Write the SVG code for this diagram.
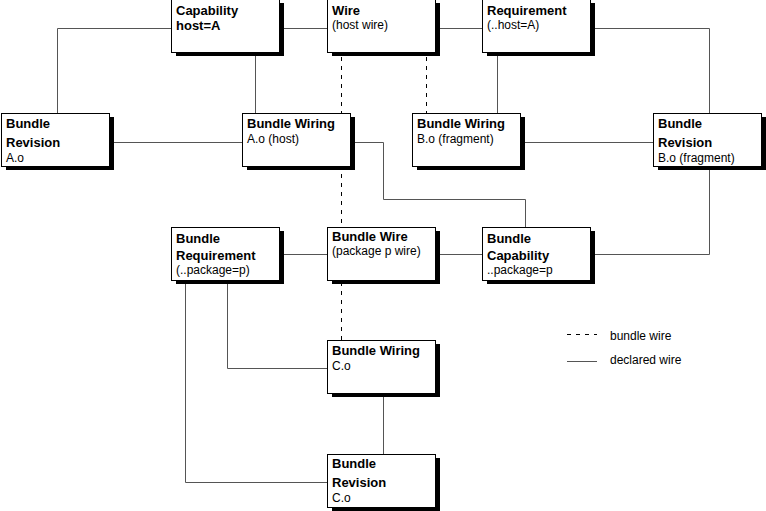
<svg xmlns="http://www.w3.org/2000/svg" width="766" height="511" viewBox="0 0 766 511">
<style>
.box{fill:#fff;stroke:#000;stroke-width:1}
.sh{fill:#000}
.b{font-family:"Liberation Sans",Arial,sans-serif;font-weight:bold;font-size:13px;fill:#000}
.r{font-family:"Liberation Sans",Arial,sans-serif;font-size:12px;fill:#000}
.c{fill:none;stroke:#555;stroke-width:1}
.d{fill:none;stroke:#000;stroke-width:1;stroke-dasharray:4,5}
</style>
<defs>
<g id="nb">
<rect class="sh" x="5" y="4" width="108" height="53"/>
<rect class="box" x="0.5" y="0.5" width="108" height="53"/>
</g>
</defs>
<rect width="766" height="511" fill="#fff"/>
<g id="connectors">
<path class="c" d="M171,28.5 H57.5 V113"/>
<path class="c" d="M255.5,53 V113"/>
<path class="c" d="M109,142.5 H242"/>
<path class="c" d="M279,28.5 H327"/>
<path class="c" d="M435,28.5 H482"/>
<path class="c" d="M591,28.5 H709.5 V113"/>
<path class="c" d="M520,142.5 H653"/>
<path class="c" d="M497.5,53 V113"/>
<path class="c" d="M350,142.5 H383.5 V199.5 H525.5 V227"/>
<path class="c" d="M709.5,167 V254.5 H591"/>
<path class="c" d="M279,254.5 H327"/>
<path class="c" d="M435,254.5 H482"/>
<path class="c" d="M185.5,280 V482.5 H327"/>
<path class="c" d="M227.5,280 V368.5 H327"/>
<path class="c" d="M383.5,393 V454"/>
<path class="d" d="M341.5,57 V341"/>
<path class="d" d="M426.5,57 V113"/>
</g>
<g id="capability">
<use href="#nb" x="171" y="-1"/>
<text class="b" x="176" y="15">Capability</text>
<text class="b" x="176" y="30">host=A</text>
</g>
<g id="wire">
<use href="#nb" x="327" y="-1"/>
<text class="b" x="332" y="15">Wire</text>
<text class="r" x="332" y="29">(host wire)</text>
</g>
<g id="requirement">
<use href="#nb" x="482" y="-1"/>
<text class="b" x="487" y="15">Requirement</text>
<text class="r" x="487" y="29">(..host=A)</text>
</g>
<g id="revisionA">
<use href="#nb" x="1" y="113"/>
<text class="b" x="6" y="128">Bundle</text>
<text class="b" x="6" y="147">Revision</text>
<text class="r" x="6" y="162">A.o</text>
</g>
<g id="wiringA">
<use href="#nb" x="242" y="113"/>
<text class="b" x="247" y="128">Bundle Wiring</text>
<text class="r" x="247" y="143">A.o (host)</text>
</g>
<g id="wiringB">
<use href="#nb" x="412" y="113"/>
<text class="b" x="417" y="128">Bundle Wiring</text>
<text class="r" x="417" y="143">B.o (fragment)</text>
</g>
<g id="revisionB">
<use href="#nb" x="653" y="113"/>
<text class="b" x="658" y="128">Bundle</text>
<text class="b" x="658" y="147">Revision</text>
<text class="r" x="658" y="162">B.o (fragment)</text>
</g>
<g id="bundleRequirement">
<use href="#nb" x="171" y="227"/>
<text class="b" x="176" y="243">Bundle</text>
<text class="b" x="176" y="260">Requirement</text>
<text class="r" x="176" y="274">(..package=p)</text>
</g>
<g id="bundleWire">
<use href="#nb" x="327" y="227"/>
<text class="b" x="332" y="241">Bundle Wire</text>
<text class="r" x="332" y="255">(package p wire)</text>
</g>
<g id="bundleCapability">
<use href="#nb" x="482" y="227"/>
<text class="b" x="487" y="243">Bundle</text>
<text class="b" x="487" y="260">Capability</text>
<text class="r" x="487" y="274">..package=p</text>
</g>
<g id="wiringC">
<use href="#nb" x="327" y="340"/>
<text class="b" x="332" y="355">Bundle Wiring</text>
<text class="r" x="332" y="370">C.o</text>
</g>
<g id="revisionC">
<use href="#nb" x="327" y="454"/>
<text class="b" x="332" y="468">Bundle</text>
<text class="b" x="332" y="487">Revision</text>
<text class="r" x="332" y="502">C.o</text>
</g>
<g id="legend">
<path class="d" d="M567,334.5 H597" stroke-dasharray="3,4"/>
<text class="r" x="610" y="340">bundle wire</text>
<path class="c" d="M567,361.5 H597"/>
<text class="r" x="610" y="364">declared wire</text>
</g>
</svg>
